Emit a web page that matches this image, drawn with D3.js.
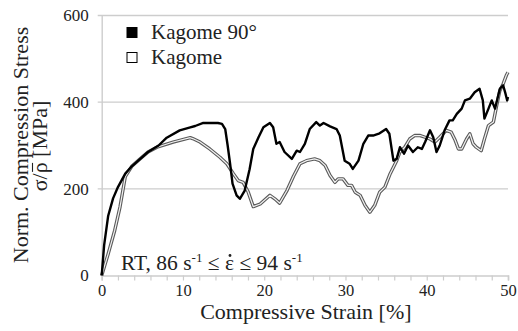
<!DOCTYPE html>
<html>
<head>
<meta charset="utf-8">
<script src="https://cdn.jsdelivr.net/npm/d3@7"></script>
<style>
  body { margin: 0; background: #fff; }
  text { font-family: "Liberation Serif", "Times New Roman", "DejaVu Serif", serif; fill: #222; }
</style>
</head>
<body>
<div id="chart"></div>
<script>
// Kagome 90° (solid black)
const strain90 = [0, 0.3, 0.8, 1.4, 2.0, 2.9, 3.7, 4.6, 5.7, 7.0, 8.0, 9.6, 10.9, 11.5, 12.5, 13.3, 14.3, 14.8, 15.2, 15.5, 15.8, 16.1, 16.6, 17.0, 17.6, 18.2, 18.65, 19.3, 19.9, 20.7, 21.1, 21.5, 21.9, 22.5, 23.4, 24.0, 24.4, 25.0, 25.6, 26.4, 26.85, 27.3, 28.1, 28.9, 29.3, 29.9, 30.5, 30.9, 31.6, 32.2, 32.8, 33.4, 34.2, 35.0, 35.4, 35.9, 36.3, 36.7, 37.2, 37.7, 38.3, 38.9, 39.4, 39.8, 40.4, 40.8, 41.2, 41.6, 42.2, 42.8, 43.2, 43.7, 44.3, 44.7, 45.3, 45.9, 46.5, 46.9, 47.1, 47.6, 48.0, 48.4, 49.0, 49.4, 49.7, 49.9, 50.0];
const stress90 = [0, 70, 138, 178, 204, 235, 252, 267, 285, 300, 318, 335, 342, 345, 352, 352, 352, 350, 338, 300, 258, 212, 185, 177, 196, 245, 292, 319, 342, 352, 342, 304, 308, 285, 269, 288, 285, 304, 338, 354, 346, 352, 344, 338, 323, 265, 258, 246, 265, 304, 323, 323, 328, 338, 327, 265, 269, 296, 281, 300, 285, 296, 292, 308, 335, 319, 285, 300, 335, 358, 358, 373, 385, 404, 408, 423, 431, 404, 362, 385, 404, 385, 431, 439, 419, 404, 412];

// Kagome (double line)
const strainK = [0, 0.8, 1.6, 2.25, 2.9, 3.7, 4.6, 5.7, 6.8, 8.8, 10.9, 11.2, 12.1, 13.3, 14.55, 15.4, 16.2, 16.8, 17.4, 18.0, 18.65, 19.5, 20.7, 21.3, 21.9, 22.8, 23.6, 24.4, 25.2, 26.2, 26.85, 27.5, 28.1, 28.7, 29.1, 29.7, 30.3, 30.75, 31.2, 31.8, 32.4, 33.0, 33.6, 34.2, 34.85, 35.5, 36.3, 36.7, 37.3, 37.9, 38.5, 39.2, 39.8, 40.4, 41.0, 41.6, 42.4, 43.0, 43.5, 43.9, 44.3, 44.9, 45.3, 45.7, 46.1, 46.7, 47.1, 47.6, 48.2, 48.6, 49.0, 49.4, 49.8, 50.0];
const stressK = [0, 50, 104, 158, 228, 252, 267, 285, 296, 308, 318, 316, 308, 292, 273, 258, 235, 219, 215, 194, 159, 165, 185, 177, 167, 196, 229, 258, 265, 269, 265, 254, 231, 215, 223, 223, 208, 208, 192, 185, 162, 146, 162, 192, 204, 235, 265, 285, 296, 315, 323, 323, 319, 315, 308, 319, 335, 331, 312, 292, 292, 315, 327, 304, 296, 288, 315, 346, 354, 392, 427, 442, 462, 469];

const xTicks = [0, 10, 20, 30, 40, 50];
const yTicks = [0, 200, 400, 600];
const legendLabels = ["Kagome 90°", "Kagome"];

const W = 518, H = 331;
const margin = { top: 15.5, right: 10, bottom: 55.5, left: 101.7 };
const serif = "'Liberation Serif', 'Times New Roman', serif";

const svg = d3.select("#chart").append("svg")
  .attr("width", W).attr("height", H);

const x = d3.scaleLinear().domain([0, 50]).range([margin.left, 508]);
const y = d3.scaleLinear().domain([0, 600]).range([H - margin.bottom, margin.top]);

const gridCol = "#cdcdcd";

// horizontal grid
svg.append("g").selectAll("line").data(yTicks.filter(d => d > 0)).join("line")
  .attr("x1", x(0) - 4).attr("x2", x(50))
  .attr("y1", d => y(d)).attr("y2", d => y(d))
  .attr("stroke", gridCol).attr("stroke-width", 1.4);

// y axis
const yAxisG = svg.append("g").attr("transform", `translate(${x(0)},0)`)
  .call(d3.axisLeft(y).tickValues(yTicks).tickSize(0).tickPadding(13));
yAxisG.attr("font-family", serif);
yAxisG.select(".domain").attr("stroke", gridCol).attr("stroke-width", 1.4);
yAxisG.selectAll("text").style("font-size", "17px").attr("fill", "#222");

// x axis
const xAxisG = svg.append("g").attr("transform", `translate(0,${y(0)})`)
  .call(d3.axisBottom(x).tickValues(d3.range(0, 51, 2)).tickSize(5).tickPadding(4)
    .tickFormat(d => xTicks.includes(d) ? d : ""));
xAxisG.attr("font-family", serif);
xAxisG.select(".domain").attr("stroke", gridCol).attr("stroke-width", 1.6);
xAxisG.selectAll("line").attr("stroke", gridCol).attr("stroke-width", 1.2);
xAxisG.selectAll("text").style("font-size", "16.5px").attr("fill", "#222");

// lines
const line = d3.line().x(d => x(d[0])).y(d => y(d[1]));
const dataK = strainK.map((s, i) => [s, stressK[i]]);
const data90 = strain90.map((s, i) => [s, stress90[i]]);

svg.append("path").datum(dataK).attr("d", line)
  .attr("fill", "none").attr("stroke", "#5a5a5a").attr("stroke-width", 3.4).attr("stroke-linejoin", "round");
svg.append("path").datum(dataK).attr("d", line)
  .attr("fill", "none").attr("stroke", "#f2f2f2").attr("stroke-width", 1.2).attr("stroke-linejoin", "round");
svg.append("path").datum(data90).attr("d", line)
  .attr("fill", "none").attr("stroke", "#000").attr("stroke-width", 2.4).attr("stroke-linejoin", "round");

// legend
const leg = svg.append("g");
legendLabels.forEach((lab, i) => {
  const yy = 38.5 + i * 25;
  leg.append("rect").attr("x", 127).attr("y", yy - 11).attr("width", 10).attr("height", 10)
    .attr("fill", i === 0 ? "#000" : "#fff").attr("stroke", "#000").attr("stroke-width", 1);
  leg.append("text").attr("x", 151).attr("y", yy).style("font-size", "21px").text(lab);
});

// strain rate annotation
const annY = 270;
const ann = svg.append("text").attr("x", 121).attr("y", annY).style("font-size", "21.5px");
ann.append("tspan").text("RT, 86 s");
ann.append("tspan").attr("dy", -8).style("font-size", "13px").text("-1");
ann.append("tspan").attr("dy", 8).text(" \u2264 \u03B5 \u2264 94 s");
ann.append("tspan").attr("dy", -8).style("font-size", "13px").text("-1");
// dot over epsilon (char index 13)
const eps = ann.node().getExtentOfChar(13);
svg.append("circle").attr("cx", eps.x + eps.width / 2 + 0.5).attr("cy", annY - 14.5)
  .attr("r", 1.4).attr("fill", "#222");

// axis titles
svg.append("text").attr("x", (x(0) + x(50)) / 2 + 1).attr("y", 319)
  .attr("text-anchor", "middle").style("font-size", "22px").text("Compressive Strain [%]");

svg.append("text").attr("transform", "translate(28,145) rotate(-90)")
  .attr("text-anchor", "middle").style("font-size", "22px").text("Norm. Compression Stress");
// sigma / rho-bar
const yt2g = svg.append("g").attr("transform", "translate(47,146) rotate(-90)");
const yt2 = yt2g.append("text").attr("text-anchor", "middle").style("font-size", "22px")
  .text("\u03C3/\u03C1 [MPa]");
const rho = yt2.node().getExtentOfChar(2);
yt2g.append("line").attr("x1", rho.x + 1.5).attr("x2", rho.x + rho.width - 0.5)
  .attr("y1", -14.5).attr("y2", -14.5).attr("stroke", "#222").attr("stroke-width", 1.1);
</script>
</body>
</html>
